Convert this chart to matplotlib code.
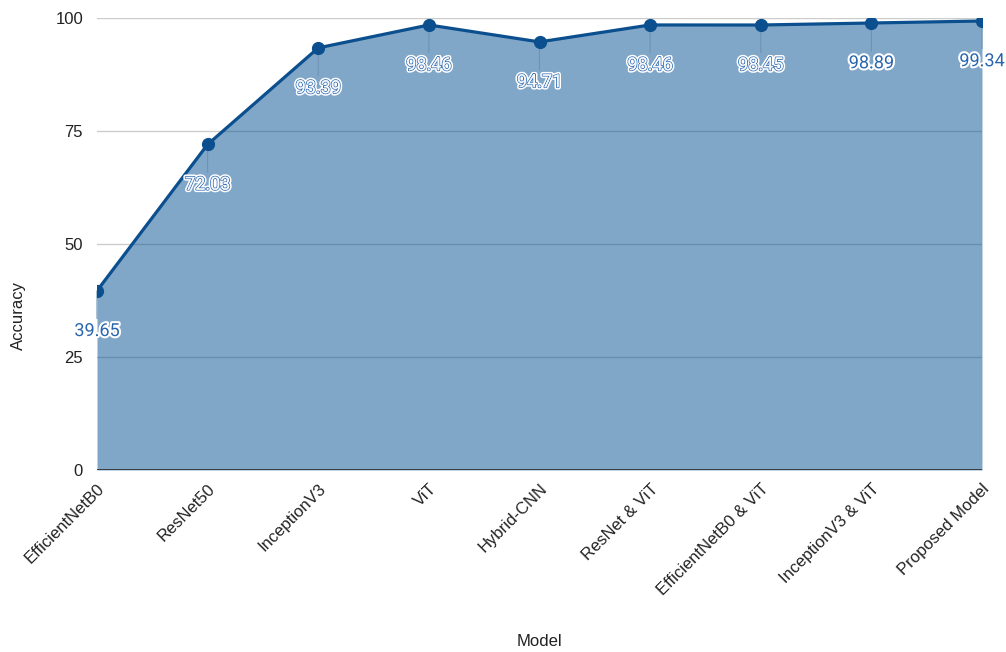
import matplotlib
matplotlib.use("Agg")
import matplotlib.pyplot as plt
import matplotlib.patheffects as pe
import numpy as np

models = ["EfficientNetB0", "ResNet50", "InceptionV3", "ViT", "Hybrid-CNN",
          "ResNet & ViT", "EfficientNetB0 & ViT", "InceptionV3 & ViT", "Proposed Model"]
accuracy = [39.65, 72.03, 93.39, 98.46, 94.71, 98.46, 98.45, 98.89, 99.34]
y_ticks = [0, 25, 50, 75, 100]
# label rendering: True = light text with blue outline, False = blue text with white halo
light_labels = [False, True, True, True, True, True, True, False, False]

line_color = "#0b4f8f"
fill_color = "#055193"
label_color = "#2a66ad"

fig = plt.figure(figsize=(10.06, 6.52), dpi=100)
ax = fig.add_axes([97 / 1006, 1 - 470 / 652, (982 - 97) / 1006, (470 - 18) / 652])

x = np.arange(len(models))

for t in y_ticks[1:]:
    ax.axhline(t, color="#cccccc", lw=1.0, zorder=1)

ax.fill_between(x, 0, accuracy, color=fill_color, alpha=0.5, lw=0, zorder=2)

# faint drop lines from each point towards its label
for xi, v in zip(x, accuracy):
    ax.annotate("", (xi, v), xytext=(0, -20), textcoords="offset points",
                arrowprops=dict(arrowstyle="-", color="#6e92b4", lw=0.8,
                                shrinkA=0, shrinkB=0), zorder=3)

ax.plot(x, accuracy, color=line_color, lw=2.3, marker="o", markersize=8.5,
        markerfacecolor=line_color, markeredgecolor=line_color, zorder=4,
        solid_capstyle="round")
ax.axhline(0, color="#333333", lw=1.3, zorder=5)

for xi, v, light in zip(x, accuracy, light_labels):
    if light:
        color = "#f4f7fb"
        effects = [pe.withStroke(linewidth=3.5, foreground="white"),
                   pe.withStroke(linewidth=1.3, foreground="#3a72b5"),
                   pe.Normal()]
    else:
        color = label_color
        effects = [pe.withStroke(linewidth=3, foreground="white")]
    ax.annotate(f"{v:.2f}", (xi, v), xytext=(0, -29), textcoords="offset points",
                ha="center", va="center", fontsize=13, color=color,
                family=["Roboto", "DejaVu Sans"], zorder=6, annotation_clip=False,
                path_effects=effects)

ax.set_xlim(0, len(models) - 1)
ax.set_ylim(0, 100)
ax.set_yticks(y_ticks)
ax.set_xticks(x)
ax.set_xticklabels(models, rotation=45, ha="right", rotation_mode="anchor",
                   fontsize=12, family="Liberation Sans", color="#222222")
ax.set_yticklabels([str(t) for t in y_ticks], fontsize=12, family="Liberation Sans",
                   color="#222222")
ax.tick_params(axis="both", length=0)
ax.tick_params(axis="x", pad=8)
ax.tick_params(axis="y", pad=10)
for s in ax.spines.values():
    s.set_visible(False)

ax.set_xlabel("Model", fontsize=12, family="Liberation Sans", color="#222222")
ax.xaxis.set_label_coords(0.5, -(634 - 470) / 452)
fig.text(18 / 1006, 1 - 316 / 652, "Accuracy", rotation=90, ha="center", va="center",
         fontsize=12, family="Liberation Sans", color="#222222")

fig.savefig("out.png", dpi=100)
